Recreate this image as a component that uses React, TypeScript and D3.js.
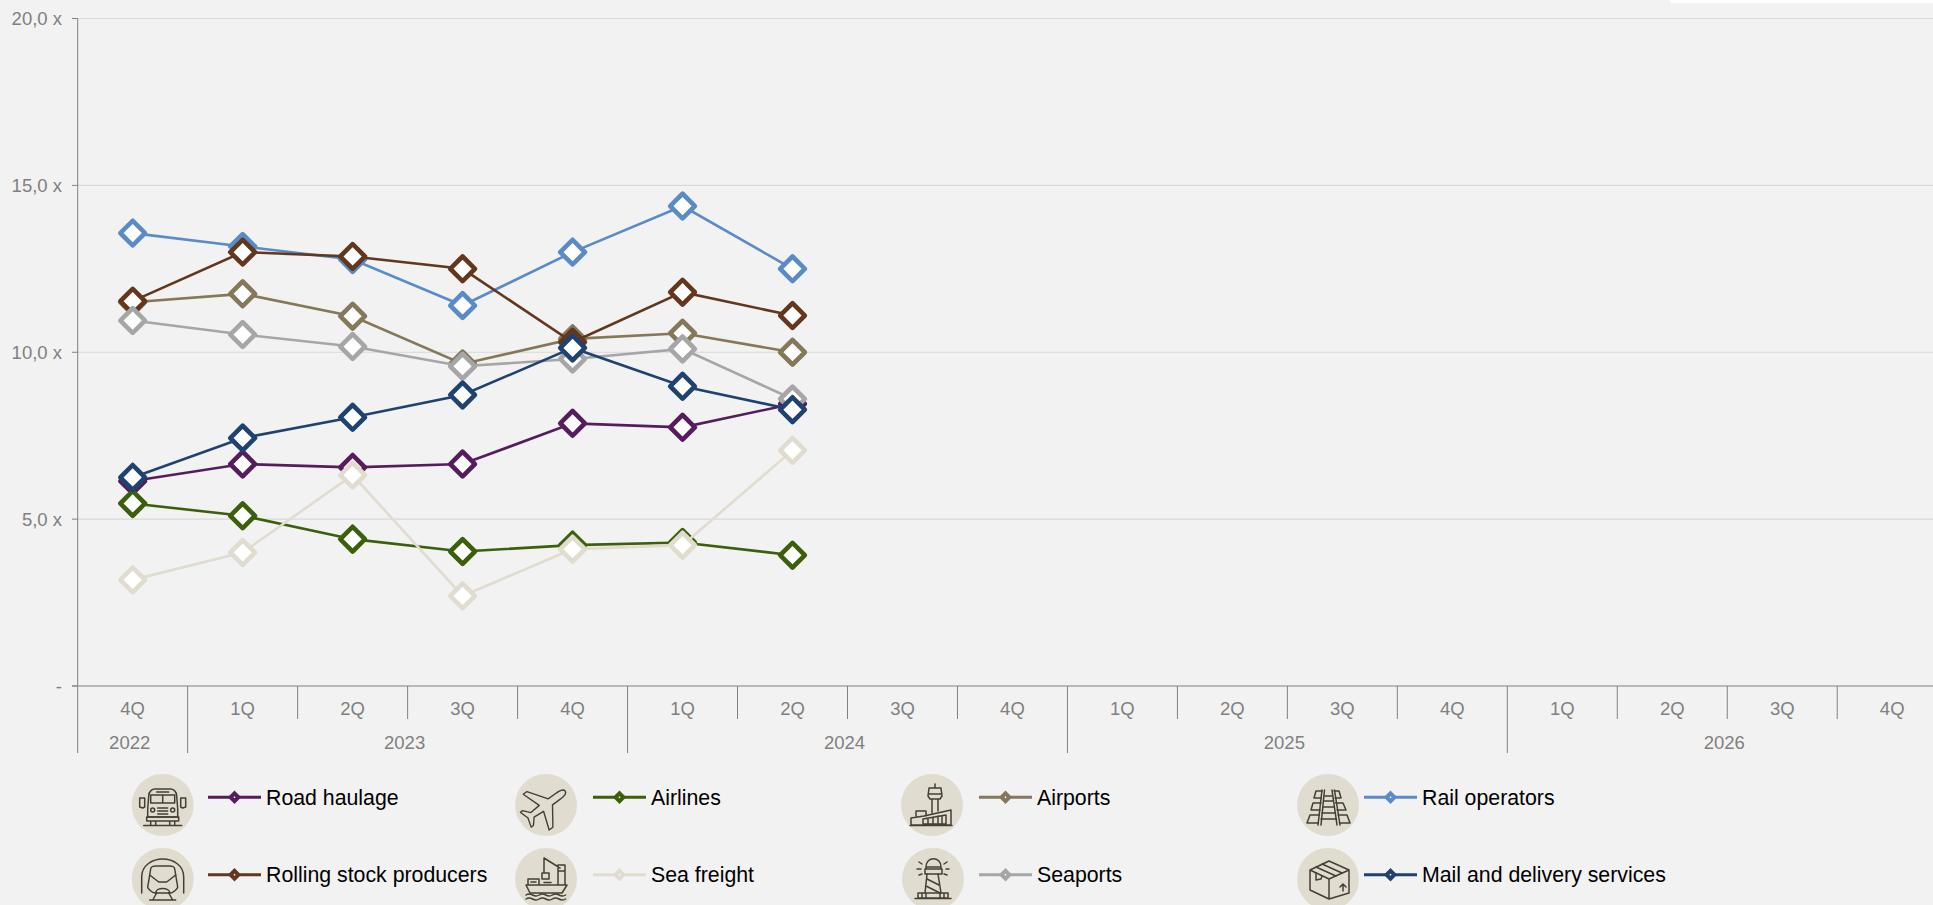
import React from "react";
import * as d3 from "d3";

const quarters = ["4Q","1Q","2Q","3Q","4Q","1Q","2Q","3Q","4Q","1Q","2Q","3Q","4Q","1Q","2Q","3Q","4Q"];
const years = ["2022","2023","2024","2025","2026"];
const yearSpans = [1,4,4,4,4];
const yTicks = [0,5,10,15,20];

const roadHaulage = [6.14,6.65,6.55,6.65,7.87,7.75,8.45];
const airlines = [5.47,5.1,4.4,4.03,4.22,4.3,3.92];
const airports = [11.5,11.75,11.08,9.65,10.4,10.57,10.0];
const railOperators = [13.57,13.17,12.78,11.4,13.0,14.38,12.5];
const rollingStock = [11.53,13.0,12.87,12.5,10.3,11.8,11.1];
const seaFreight = [3.18,4.0,6.32,2.7,4.1,4.22,7.06];
const seaports = [10.95,10.53,10.17,9.58,9.8,10.1,8.6];
const mailDelivery = [6.25,7.43,8.05,8.72,10.13,8.98,8.28];

const seriesNames = ["Road haulage","Airlines","Airports","Rail operators","Rolling stock producers","Sea freight","Seaports","Mail and delivery services"];
const seriesValues = [roadHaulage,airlines,airports,railOperators,rollingStock,seaFreight,seaports,mailDelivery];
const seriesColors = ["#571c5e","#3b5f0a","#85775a","#5a8bc9","#62371d","#e0dccf","#a6a6a6","#1f4270"];

const BG = "#f2f2f2";
const TICK = "#808080";
const W = 1933, H = 905;
const plotLeft = 77.7, bandW = 109.97, plotTop = 18.5, plotBottom = 686;

const Icon = ({k}:{k:number}) => {
  const p = {fill:"none",stroke:"#443e33",strokeWidth:1.5,strokeLinejoin:"round" as const,strokeLinecap:"round" as const};
  const icons: React.ReactNode[] = [
    <g {...p}>
      <path d="M-14,-9 C-14,-14 -10,-16 -8,-16 L8,-16 C10,-16 14,-14 14,-9 L15,4 L15,12 L-15,12 L-15,4 Z"/>
      <path d="M-6,-13 L6,-13 M-12,-2 L12,-2 L12,-10 L-12,-10 Z M0,-10 L0,-2"/>
      <path d="M-5,3 L5,3 M-5,6 L5,6 M-5,9 L5,9"/>
      <circle cx={-10} cy={5} r={2}/><circle cx={10} cy={5} r={2}/>
      <path d="M-23,-7 L-18,-7 L-18,2 L-20,3 L-23,2 Z M18,-7 L23,-7 L23,2 L20,3 L18,2 Z"/>
      <path d="M-16,12 L16,12 L16,16 L-16,16 Z M-12,16 L-12,20 M-7,16 L-7,20 M12,16 L12,20 M7,16 L7,20 M-19,20.5 L19,20.5"/>
    </g>,
    <g {...p} transform="rotate(54) translate(0,2) scale(0.92)">
      <path d="M0,-28 C3,-28 4,-22 4,-18 L4,-8 L24,6 L24,11 L4,4 L3,16 L10,22 L10,25 L0,22 L-10,25 L-10,22 L-3,16 L-4,4 L-24,11 L-24,6 L-4,-8 L-4,-18 C-4,-22 -3,-28 0,-28 Z"/>
    </g>,
    <g {...p}>
      <path d="M3,-21 L3,-17 M-3,-17 L9,-17 L10,-9 L8,-6 L-2,-6 L-4,-9 Z M-3,-11 L10,-11 M0,-6 L0,8 M6,-6 L6,6"/>
      <path d="M-21,20 L-21,13 L-8,11 L19,5 L19,20 Z M-16,11 L-16,6 L-6,6 L-6,11 M-9,19 L-9,14 L14,10 L14,19 Z M-4,13 L-4,19 M1,12 L1,19 M6,11 L6,19 M10,11 L10,19 M-22,20.5 L20,20.5"/>
    </g>,
    <g {...p}>
      <path d="M-6,-15 L-10,20 M-3.5,-15 L-7,20 M4,-15 L9,20 M6.5,-15 L12,20"/>
      <path d="M-3.5,-9 L4.5,-9 M-4,-4 L5,-4 M-5,2 L6,2 M-6,8 L7.5,8 M-7,14 L8.5,14"/>
      <path d="M-6,-14 L-12,-14 L-14,-7 L-6.5,-7 M6,-14 L11,-14 L13,-7 L7,-7"/>
      <path d="M-7,-2 L-15,-2 L-17,5 L-8,5 M7.5,-2 L15,-2 L18,5 L9,5"/>
      <path d="M-8.5,10 L-18,10 L-21,18 L-10,18 M10,10 L19,10 L22,18 L11.5,18"/>
    </g>,
    <g {...p}>
      <path d="M-21,14 L-21,-2 C-21,-14 -10,-20 0,-20 C10,-20 21,-14 21,-2 L21,14"/>
      <path d="M-12,-10 C-12,-12 -9,-13 -7,-13 L7,-13 C9,-13 12,-12 12,-10 L15,8 C15,10 10,14 8,14 L-8,14 C-10,14 -15,10 -15,8 Z"/>
      <path d="M-13,-4 L-4,3 L4,3 L13,-4 M-7,14 C-7,8 7,8 7,14 M-10,21 L-6,14 M10,21 L6,14 M-13,21 L13,21"/>
    </g>,
    <g {...p}>
      <path d="M-20,6 L21,6 L16,14 L-16,14 Z M-18,6 L-18,0 L-7,0 L-7,6 M-15,3 L-10,3 M-4,0 L-4,-6 L3,-6 L3,0 Z M-2,-21 L-2,-6 M-2,-21 L14,-11 M12,6 L12,-14 L19,-14 L19,6 M12,-8 L19,-8 M-2,3.5 L5,3.5"/>
      <path d="M-20,16 q3,-2 6.6,0 t6.6,0 t6.6,0 t6.6,0 t6.6,0 t6.6,0 M-20,20 q3,-2 6.6,0 t6.6,0 t6.6,0 t6.6,0 t6.6,0 t6.6,0"/>
    </g>,
    <g {...p}>
      <path d="M-7,-12 C-7,-23 8,-23 8,-12 Z M-8,-10 L9,-10 L9,-5 L-8,-5 Z M-7,-10 L-7,-12 M8,-10 L8,-12"/>
      <path d="M-6,-5 L-8,14 M5,-5 L8,14 M-6,0 L6,6 M-7,7 L7,14"/>
      <path d="M-15,14 L15,14 L15,19 L-15,19 Z M-11,14 L-11,19 M-7,14 L-7,19 M7,14 L7,19 M11,14 L11,19 M-18,19.5 L18,19.5"/>
      <path d="M-14,-17 L-11,-15 M14,-17 L11,-15 M-16,-10 L-12,-10 M16,-10 L13,-10 M-14,-4 L-11,-5 M14,-4 L11,-5"/>
    </g>,
    <g {...p}>
      <path d="M-18,-9 L1,-18 L21,-9 L21,14 L1,20 L-18,11 Z M-18,-9 L1,0 L21,-9 M1,0 L1,20"/>
      <path d="M-12,-12 L8,-3 M-6,-15 L14,-6 M-12,-6 L-12,1 L-7,0 L-6,-3 M15,12 L15,5 M12,8 L15,5 L18,8"/>
    </g>,
  ];
  return <>{icons[k]}</>;
};

const legendCircleX = [162.7,546,932,1328,162.7,546,933,1328];
const legendLineX = [208,593,979,1364,208,593,979,1364];
const legendRows = [805,805,805,805,879,879,879,879];
const legendLineY = [797.3,797.3,797.3,797.3,874.7,874.7,874.7,874.7];

export default function App() {
  const x = d3.scaleBand<number>().domain(d3.range(quarters.length)).range([plotLeft, plotLeft + bandW * quarters.length]);
  const y = d3.scaleLinear().domain([0,20]).range([plotBottom, plotTop]);
  const line = d3.line<number>().x((_, i) => x(i)! + x.bandwidth()/2).y(v => y(v));
  const marker = d3.symbol(d3.symbolSquare, 305)()!;
  const legendMarker = d3.symbol(d3.symbolSquare, 30)()!;
  const font = "'Liberation Sans', Arial, sans-serif";

  let cum = 0;
  const yearBounds = yearSpans.map(s => { const a = cum; cum += s; return [a, cum]; });

  return (
    <div style={{position:"fixed",left:0,top:0,width:W,height:H,overflow:"hidden",background:BG}}>
      <svg width={W} height={H} style={{display:"block"}} fontFamily={font}>
        <rect x={1670} y={0} width={263} height={3} fill="#ffffff"/>
        {yTicks.map(t => (
          <g key={t}>
            {t>0 && <line x1={plotLeft} x2={W} y1={y(t)} y2={y(t)} stroke="#d9d9d9" strokeWidth={1.2}/>}
            <line x1={72} x2={plotLeft} y1={y(t)} y2={y(t)} stroke={TICK} strokeWidth={1}/>
            <text x={62} y={y(t)+6.5} textAnchor="end" fontSize={18.5} fill={TICK}>{t===0?"-":`${t},0 x`}</text>
          </g>
        ))}
        <line x1={plotLeft} x2={plotLeft} y1={plotTop} y2={plotBottom} stroke={TICK} strokeWidth={1}/>
        <line x1={72} x2={W} y1={plotBottom} y2={plotBottom} stroke={TICK} strokeWidth={1}/>
        {quarters.map((q,i) => (
          <g key={i}>
            <line x1={x(i)!} x2={x(i)!} y1={plotBottom} y2={719} stroke={TICK} strokeWidth={1}/>
            <text x={x(i)!+bandW/2} y={714.5} textAnchor="middle" fontSize={18.5} fill={TICK}>{q}</text>
          </g>
        ))}
        {years.map((yr,i) => {
          const [a,b] = yearBounds[i];
          const l = x(a)!;
          const r = l + (b-a)*bandW;
          return (
            <g key={yr}>
              <line x1={l} x2={l} y1={719} y2={753} stroke={TICK} strokeWidth={1}/>
              <text x={(l+r)/2-3} y={748.5} textAnchor="middle" fontSize={18.5} fill={TICK}>{yr}</text>
            </g>
          );
        })}
        {seriesValues.map((vals,s) => (
          <g key={seriesNames[s]}>
            <path d={line(vals)!} fill="none" stroke={seriesColors[s]} strokeWidth={2.6}/>
            {vals.map((v,i) => (
              <path key={i} d={marker} transform={`translate(${x(i)!+bandW/2},${y(v)}) rotate(45)`} fill="#ffffff" stroke={seriesColors[s]} strokeWidth={4.6} strokeLinejoin="round"/>
            ))}
          </g>
        ))}
        {seriesNames.map((n,i) => (
          <g key={n}>
            <g transform={`translate(${legendCircleX[i]},${legendRows[i]})`}>
              <circle r={31} fill="#e0dcd0"/>
              <Icon k={i}/>
            </g>
            <line x1={legendLineX[i]} x2={legendLineX[i]+53} y1={legendLineY[i]} y2={legendLineY[i]} stroke={seriesColors[i]} strokeWidth={3}/>
            <path d={legendMarker} transform={`translate(${legendLineX[i]+26.5},${legendLineY[i]}) rotate(45)`} fill="#ffffff" stroke={seriesColors[i]} strokeWidth={4}/>
            <text x={legendLineX[i]+58} y={legendLineY[i]+7.5} fontSize={21.3} fill="#000000">{n}</text>
          </g>
        ))}
      </svg>
    </div>
  );
}
